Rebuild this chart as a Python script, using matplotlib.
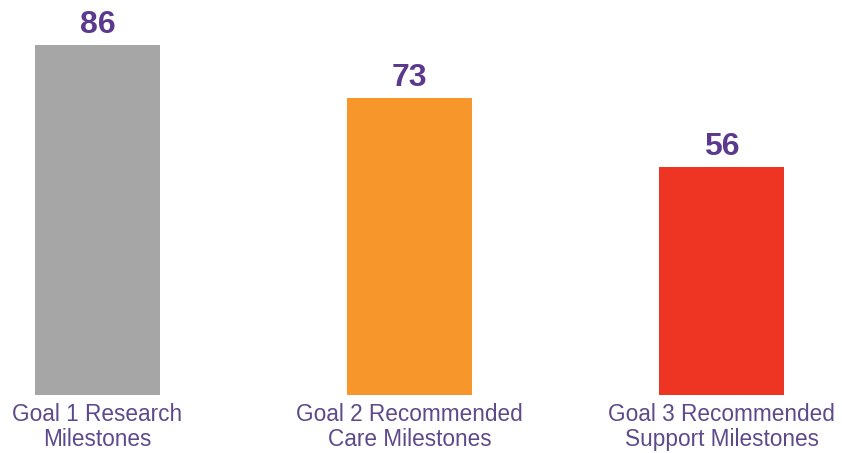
import matplotlib.pyplot as plt

categories = ['Goal 1 Research\nMilestones',
              'Goal 2 Recommended\nCare Milestones',
              'Goal 3 Recommended\nSupport Milestones']
values = [86, 73, 56]
colors = ['#A6A6A6', '#F7962A', '#EE3524']

plt.rcParams['font.family'] = ['Liberation Sans', 'DejaVu Sans']

fig = plt.figure(figsize=(8.42, 4.53), dpi=100)
ax = fig.add_axes([0, 58 / 453, 1, 395 / 453])

x = range(len(values))
ax.bar(x, values, width=0.4, color=colors)

for i, v in enumerate(values):
    ax.text(i, v + 2.9, str(v), ha='center', va='baseline',
            fontsize=23, fontweight='bold', color='#5B3A8E')
    ax.text(i, -2.0, categories[i], ha='center', va='top',
            fontsize=16.3, color='#5E4A8B', linespacing=1.08)

ax.set_xlim(-0.3125, 2.386)
ax.set_ylim(0, 97)
ax.axis('off')

fig.savefig('out.png', dpi=100)
